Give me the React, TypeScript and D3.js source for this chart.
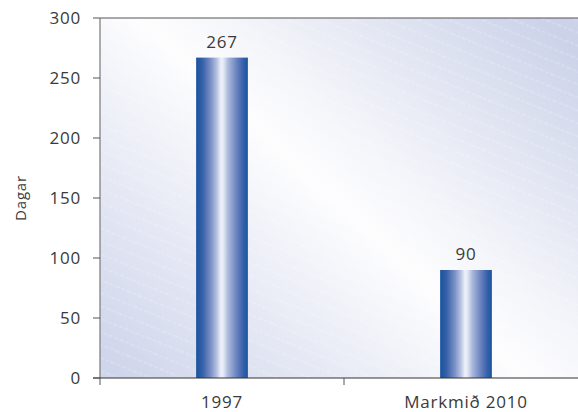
import React from "react";
import * as d3 from "d3";

const categories: string[] = ["1997", "Markmið 2010"];
const values: number[] = [267, 90];
const yTicks: number[] = [0, 50, 100, 150, 200, 250, 300];
const yLabel = "Dagar";

const W = 578;
const H = 412;
const margin = { left: 100, top: 18, right: -10, bottom: 34 };
const font = "'Open Sans', 'Noto Sans', sans-serif";
const textColor = "#3a3a3a";

export default function App() {
  const x = d3
    .scaleBand<string>()
    .domain(categories)
    .range([margin.left, W - margin.right])
    .paddingInner(0)
    .paddingOuter(0);
  const y = d3.scaleLinear().domain([0, 300]).range([H - margin.bottom, margin.top]);
  const barW = x.bandwidth() * 0.212;
  const x0 = margin.left;
  const y0 = y(0);
  const yTop = y(300);

  return (
    <svg
      width={W}
      height={H}
      style={{ position: "absolute", left: 0, top: 0, display: "block" }}
    >
      <defs>
        <linearGradient id="bg" gradientUnits="userSpaceOnUse" x1={150} y1={400} x2={520} y2={0}>
          <stop offset="0" stopColor="#cfd5eb" />
          <stop offset="0.5" stopColor="#fdfdfe" />
          <stop offset="0.62" stopColor="#f4f5fa" />
          <stop offset="1" stopColor="#ccd3e9" />
        </linearGradient>
        <pattern
          id="stripes"
          patternUnits="userSpaceOnUse"
          width={12}
          height={12}
          patternTransform="rotate(22)"
        >
          <line x1={0} y1={6} x2={12} y2={6} stroke="#ffffff" strokeWidth={0.8} strokeDasharray="3 2" strokeOpacity={0.4} />
        </pattern>
        <linearGradient id="bar" x1="0" y1="0" x2="1" y2="0">
          <stop offset="0" stopColor="#1a539f" />
          <stop offset="0.12" stopColor="#3460a8" />
          <stop offset="0.28" stopColor="#7a8fc6" />
          <stop offset="0.4" stopColor="#b6c2e2" />
          <stop offset="0.48" stopColor="#eef1f8" />
          <stop offset="0.53" stopColor="#e2e7f3" />
          <stop offset="0.62" stopColor="#aab8dc" />
          <stop offset="0.78" stopColor="#6b84c0" />
          <stop offset="0.9" stopColor="#3a63ad" />
          <stop offset="1" stopColor="#1a539f" />
        </linearGradient>
      </defs>

      {/* plot background */}
      <rect x={x0} y={yTop} width={W - x0} height={y0 - yTop} fill="url(#bg)" />
      <rect x={x0} y={yTop} width={W - x0} height={y0 - yTop} fill="url(#stripes)" />

      {/* bars */}
      {categories.map((c, i) => {
        const cx = (x(c) as number) + x.bandwidth() / 2;
        return (
          <g key={c}>
            <rect
              x={cx - barW / 2}
              y={y(values[i])}
              width={barW}
              height={y0 - y(values[i])}
              fill="url(#bar)"
            />
            <text
              x={cx}
              y={y(values[i]) - 10}
              textAnchor="middle"
              fontFamily={font}
              fontSize={17}
              letterSpacing={0.8}
              fill={textColor}
            >
              {values[i]}
            </text>
          </g>
        );
      })}

      {/* frame lines */}
      <line x1={x0} x2={W} y1={yTop} y2={yTop} stroke="#555" strokeWidth={1.2} />
      <line x1={x0} x2={x0} y1={yTop} y2={y0} stroke="#777" strokeWidth={1.2} />
      <line x1={x0 - 7} x2={W} y1={y0} y2={y0} stroke="#333" strokeWidth={1.2} />

      {/* y ticks */}
      {yTicks.map((t) => (
        <g key={t}>
          <line x1={x0 - 7} x2={x0} y1={y(t)} y2={y(t)} stroke="#555" strokeWidth={1} />
          <text
            x={x0 - 19}
            y={y(t)}
            dy="0.35em"
            textAnchor="end"
            fontFamily={font}
            fontSize={17}
            letterSpacing={0.8}
            fill={textColor}
          >
            {t}
          </text>
        </g>
      ))}

      {/* x ticks at band boundaries */}
      {categories.map((c) => (
        <line
          key={c}
          x1={x(c) as number}
          x2={x(c) as number}
          y1={y0}
          y2={y0 + 7}
          stroke="#555"
          strokeWidth={1}
        />
      ))}
      {categories.map((c) => (
        <text
          key={c}
          x={(x(c) as number) + x.bandwidth() / 2}
          y={y0 + 30}
          textAnchor="middle"
          fontFamily={font}
          fontSize={17}
          letterSpacing={0.8}
          fill={textColor}
        >
          {c}
        </text>
      ))}

      <text
        transform={`translate(26, ${(y0 + yTop) / 2}) rotate(-90)`}
        textAnchor="middle"
        fontFamily={font}
        fontSize={15}
        letterSpacing={0.8}
        fill={textColor}
      >
        {yLabel}
      </text>
    </svg>
  );
}
